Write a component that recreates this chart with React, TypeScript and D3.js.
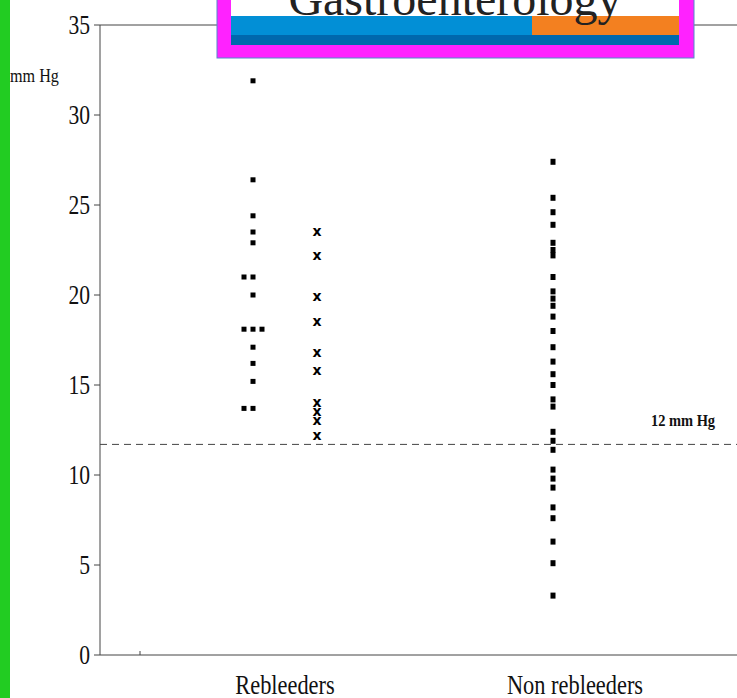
import * as d3 from "d3";

const yTicks = [0, 5, 10, 15, 20, 25, 30, 35];
const groups = ["Rebleeders", "Non rebleeders"];
// rebleeders: [offset index, value]
const rebleedDots: [number, number][] = [
  [0, 31.9], [0, 26.4], [0, 24.4], [0, 23.5], [0, 22.9],
  [-1, 21.0], [0, 21.0], [0, 20.0],
  [-1, 18.1], [0, 18.1], [1, 18.1],
  [0, 17.1], [0, 16.2], [0, 15.2], [-1, 13.7], [0, 13.7],
];
const rebleedX = [23.5, 22.2, 19.9, 18.5, 16.8, 15.8, 14.0, 13.5, 13.0, 12.2];
const nonRebleed = [
  27.4, 25.4, 24.6, 23.9, 22.9, 22.5, 22.2, 21.0, 20.2, 19.8, 19.4, 18.8, 18.0,
  17.1, 16.3, 15.6, 15.0, 14.2, 13.8, 12.4, 11.9, 11.4, 10.3, 9.8, 9.3, 8.2,
  7.6, 6.3, 5.1, 3.3,
];
const threshold = 11.7;

export default function App() {
  const W = 737, H = 698;
  const left = 100, top = 25, bottom = 655;
  const y = d3.scaleLinear().domain([0, 35]).range([bottom, top]);
  const x = d3.scaleOrdinal<string, number>().domain(groups).range([285, 575]);
  const colReb = x("Rebleeders") - 32;
  const colX = x("Rebleeders") + 32;
  const colNon = x("Non rebleeders") - 22;
  const serif = "'Liberation Serif', 'DejaVu Serif', serif";
  const lbl = (t: string, cx: number, cy: number, fs: number, sx: number, anchor: string, weight = "normal") => (
    <text
      transform={`translate(${cx},${cy}) scale(${sx},1)`}
      textAnchor={anchor}
      fontFamily={serif}
      fontSize={fs}
      fontWeight={weight}
      fill="#111"
    >{t}</text>
  );
  return (
    <svg width={W} height={H} style={{ position: "absolute", left: 0, top: 0 }}>
      <rect width={W} height={H} fill="#fff" />
      <rect x={0} y={0} width={10} height={H} fill="#22cc22" />
      {/* axes */}
      <line x1={left} x2={W} y1={bottom} y2={bottom} stroke="#444" />
      <line x1={left} x2={left} y1={top} y2={bottom} stroke="#444" />
      <line x1={left} x2={W} y1={top} y2={top} stroke="#444" />
      <line x1={140} x2={140} y1={bottom} y2={bottom - 4} stroke="#444" />
      {yTicks.map((t) => (
        <g key={t}>
          <line x1={left - 6} x2={left} y1={y(t)} y2={y(t)} stroke="#444" />
          {lbl(String(t), left - 10, y(t) + 9, 27, 0.8, "end")}
        </g>
      ))}
      {lbl("mm Hg", 10, 82, 19, 0.85, "start")}
      {groups.map((g) => (
        <g key={g}>{lbl(g, x(g), 694, 28, 0.8, "middle")}</g>
      ))}
      <line x1={left} x2={W} y1={y(threshold)} y2={y(threshold)} stroke="#444" strokeDasharray="7,5" />
      {lbl("12 mm Hg", 683, y(threshold) - 18, 17, 0.85, "middle", "bold")}
      {rebleedDots.map(([o, v], i) => (
        <rect key={"r" + i} x={colReb + o * 9 - 2.5} y={y(v) - 2.5} width={5} height={5} fill="#000" />
      ))}
      {rebleedX.map((v, i) => (
        <text key={"x" + i} x={colX} y={y(v)} dy="0.3em" textAnchor="middle" fontFamily="'DejaVu Sans', sans-serif" fontSize={14} fontWeight="bold" fill="#000">x</text>
      ))}
      {nonRebleed.map((v, i) => (
        <rect key={"n" + i} x={colNon - 2.5} y={y(v) - 3} width={5} height={6} fill="#000" />
      ))}
      {/* banner */}
      <rect x={217} y={-10} width={477} height={68} fill="#ff22ff" stroke="#5588cc" />
      <rect x={231} y={-10} width={448} height={26} fill="#fff" />
      <rect x={231} y={16} width={301} height={19} fill="#028fd6" />
      <rect x={532} y={16} width={147} height={19} fill="#f38020" />
      <rect x={231} y={35} width={448} height={10} fill="#0068ad" />
      <text x={455} y={15} textAnchor="middle" fontFamily={serif} fontSize={48} fill="#222">Gastroenterology</text>
    </svg>
  );
}
